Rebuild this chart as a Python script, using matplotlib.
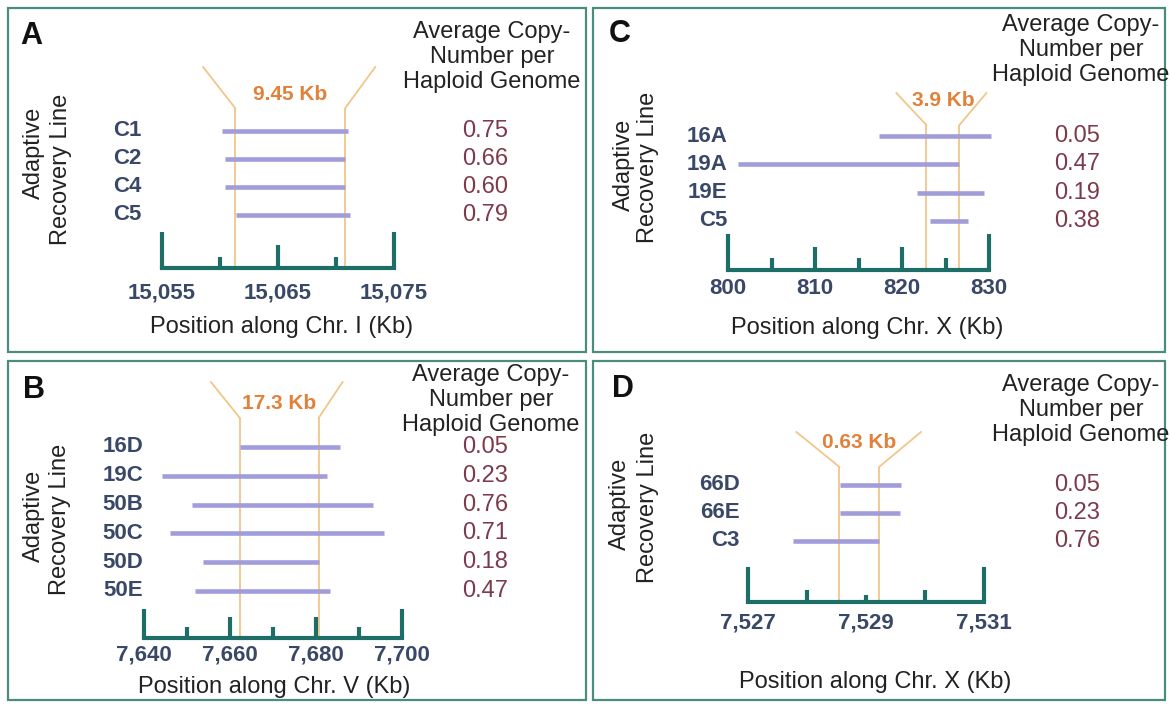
import matplotlib
matplotlib.use("Agg")
import matplotlib.pyplot as plt
from matplotlib.patches import Rectangle

plt.rcParams["font.family"] = ["Liberation Sans", "DejaVu Sans"]

W, H = 1171, 705

# --- data -------------------------------------------------------------
# panel A, Chr. I
A_lines = ["C1", "C2", "C4", "C5"]
A_start = [15060.2, 15060.4, 15060.4, 15061.4]
A_end = [15071.0, 15070.8, 15070.8, 15071.2]
A_copy = [0.75, 0.66, 0.60, 0.79]
A_major = [15055, 15065, 15075]
A_minor = [15060, 15070]
A_region = [15061.3, 15070.8]
A_region_label = "9.45 Kb"

# panel B, Chr. V
B_lines = ["16D", "19C", "50B", "50C", "50D", "50E"]
B_start = [7662.3, 7644.2, 7651.1, 7646.0, 7653.7, 7651.8]
B_end = [7685.6, 7682.6, 7693.2, 7695.9, 7680.6, 7683.3]
B_copy = [0.05, 0.23, 0.76, 0.71, 0.18, 0.47]
B_major = [7640, 7660, 7680, 7700]
B_minor = [7650, 7670, 7690]
B_region = [7662.3, 7680.6]
B_region_label = "17.3 Kb"

# panel C, Chr. X
C_lines = ["16A", "19A", "19E", "C5"]
C_start = [817.3, 801.2, 821.7, 823.2]
C_end = [830.2, 826.5, 829.4, 827.6]
C_copy = [0.05, 0.47, 0.19, 0.38]
C_major = [800, 810, 820, 830]
C_minor = [805, 815, 825]
C_region = [822.8, 826.6]
C_region_label = "3.9 Kb"

# panel D, Chr. X
D_lines = ["66D", "66E", "C3"]
D_start = [7528.56, 7528.56, 7527.76]
D_end = [7529.59, 7529.58, 7529.22]
D_copy = [0.05, 0.23, 0.76]
D_major = [7527, 7529, 7531]
D_minor = [7528, 7530]
D_region = [7528.55, 7529.22]
D_region_label = "0.63 Kb"

# --- styling ----------------------------------------------------------
BORDER = "#4a8c7e"
RULER = "#1d6e67"
REGION = "#f1c689"
BAR = "#a19ddb"
LABEL = "#3a4868"
VALUE = "#7d3a4c"
ORANGE = "#e2813a"
HEADER = "Average Copy-\nNumber per\nHaploid Genome"

# pixel layout of each panel (positions only)
LAYOUT = {
    "A": dict(box=(8, 8, 586, 352), ruler=(162, 394), base=268,
              h_end=36, h_mid=23, h_min=11, tick_y=293,
              knee=108, top=67, dx=(32, 30), lab_y=94,
              row0=131, row_dy=28, lab_x=141, val_x=485,
              hdr=(492, 57), ylab=((34, 153), (61, 169)),
              letter=(20, 36), xlab=(282, 327), chrom="Chr. I"),
    "B": dict(box=(8, 361, 586, 700), ruler=(144, 402), base=638,
              h_end=29, h_mid=21, h_min=11, tick_y=655,
              knee=418, top=382, dx=(29, 24), lab_y=403,
              row0=447, row_dy=28.8, lab_x=143, val_x=485,
              hdr=(491, 400), ylab=((34, 516), (60, 519)),
              letter=(23, 390), xlab=(274, 687), chrom="Chr. V"),
    "C": dict(box=(593, 8, 1165, 352), ruler=(728, 989), base=270,
              h_end=36, h_mid=23, h_min=12, tick_y=288,
              knee=125, top=93, dx=(30, 27), lab_y=100,
              row0=136, row_dy=28.3, lab_x=727, val_x=1077,
              hdr=(1081, 50), ylab=((624, 165), (648, 167)),
              letter=(609, 34), xlab=(867, 328), chrom="Chr. X"),
    "D": dict(box=(593, 361, 1165, 700), ruler=(748, 984), base=602,
              h_end=35, h_mid=7, h_min=12, tick_y=623,
              knee=467, top=432, dx=(43, 42), lab_y=442,
              row0=485, row_dy=28, lab_x=740, val_x=1077,
              hdr=(1081, 410), ylab=((620, 504), (648, 507)),
              letter=(612, 389), xlab=(875, 682), chrom="Chr. X"),
}

fig = plt.figure(figsize=(W / 100, H / 100), dpi=100)
bg = fig.add_axes([0, 0, 1, 1])
bg.set_xlim(0, W)
bg.set_ylim(H, 0)
bg.axis("off")


def draw_panel(letter, lines, starts, ends, copies, major, minor, region, region_label):
    lay = LAYOUT[letter]
    left, top, right, bottom = lay["box"]
    bg.add_patch(Rectangle((left, top), right - left, bottom - top,
                           fill=False, ec=BORDER, lw=1.6))

    # axes in genome coordinates (x) and pixel rows (y)
    r0, r1 = lay["ruler"]
    s = (r1 - r0) / (major[-1] - major[0])
    ax = fig.add_axes([left / W, 1 - bottom / H, (right - left) / W, (bottom - top) / H])
    ax.set_xlim(major[0] - (r0 - left) / s, major[-1] + (right - r1) / s)
    ax.set_ylim(bottom, top)
    ax.axis("off")

    # ruler
    base = lay["base"]
    ax.plot([major[0], major[-1]], [base, base], color=RULER, lw=3,
            solid_capstyle="projecting")
    ax.vlines([major[0], major[-1]], base, base - lay["h_end"], color=RULER, lw=3)
    ax.vlines(major[1:-1], base, base - lay["h_mid"], color=RULER, lw=3)
    ax.vlines(minor, base, base - lay["h_min"], color=RULER, lw=3)
    for t in major:
        ax.text(t, lay["tick_y"], f"{t:,}", ha="center", va="center",
                fontsize=16, fontweight="bold", color=LABEL)

    # amplified region
    knee, ytop = lay["knee"], lay["top"]
    dxl, dxr = lay["dx"]
    ax.vlines(region, knee, base, color=REGION, lw=1.3, zorder=1)
    ax.plot([region[0] - dxl / s, region[0]], [ytop, knee], color=REGION, lw=1.3)
    ax.plot([region[1], region[1] + dxr / s], [knee, ytop], color=REGION, lw=1.3)
    ax.text(sum(region) / 2, lay["lab_y"], region_label, ha="center", va="center",
            fontsize=15, fontweight="bold", color=ORANGE)

    # recovery lines
    ys = [lay["row0"] + i * lay["row_dy"] for i in range(len(lines))]
    ax.hlines(ys, starts, ends, color=BAR, lw=3.3, zorder=3)
    for y, name, c in zip(ys, lines, copies):
        bg.text(lay["lab_x"], y, name, ha="right", va="center",
                fontsize=16, fontweight="bold", color=LABEL)
        bg.text(lay["val_x"], y, f"{c:.2f}", ha="center", va="center",
                fontsize=17, color=VALUE)

    # texts
    bg.text(*lay["hdr"], HEADER, ha="center", va="center", fontsize=17,
            linespacing=1.2, color="#222222")
    (x1, y1), (x2, y2) = lay["ylab"]
    bg.text(x1, y1, "Adaptive", rotation=90, ha="center", va="center",
            fontsize=17, color="#222222")
    bg.text(x2, y2, "Recovery Line", rotation=90, ha="center", va="center",
            fontsize=17, color="#222222")
    bg.text(*lay["letter"], letter, ha="left", va="center", fontsize=22,
            fontweight="bold", color="#111111")
    bg.text(*lay["xlab"], f"Position along {lay['chrom']} (Kb)", ha="center",
            va="center", fontsize=17, color="#222222")


draw_panel("A", A_lines, A_start, A_end, A_copy, A_major, A_minor, A_region, A_region_label)
draw_panel("B", B_lines, B_start, B_end, B_copy, B_major, B_minor, B_region, B_region_label)
draw_panel("C", C_lines, C_start, C_end, C_copy, C_major, C_minor, C_region, C_region_label)
draw_panel("D", D_lines, D_start, D_end, D_copy, D_major, D_minor, D_region, D_region_label)

fig.savefig("out.png", dpi=100)
